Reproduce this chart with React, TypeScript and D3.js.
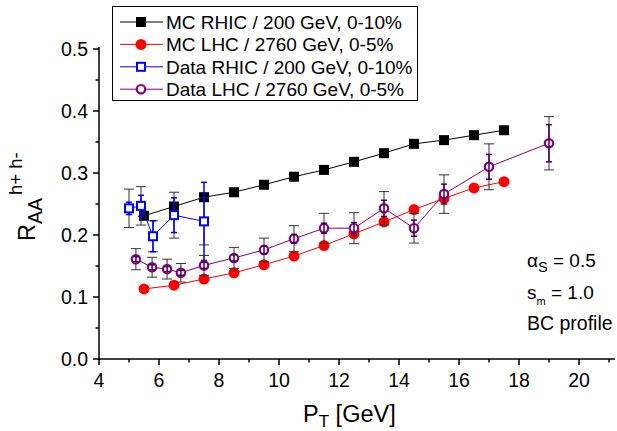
import React from "react";
import * as d3 from "d3";

// ---- data ----
const mcRhicX = [5.5, 6.5, 7.5, 8.5, 9.5, 10.5, 11.5, 12.5, 13.5, 14.5, 15.5, 16.5, 17.5];
const mcRhicY = [0.231, 0.246, 0.261, 0.269, 0.281, 0.294, 0.305, 0.318, 0.332, 0.347, 0.353, 0.361, 0.369];

const mcLhcX = [5.5, 6.5, 7.5, 8.5, 9.5, 10.5, 11.5, 12.5, 13.5, 14.5, 15.5, 16.5, 17.5];
const mcLhcY = [0.113, 0.119, 0.129, 0.139, 0.152, 0.166, 0.183, 0.202, 0.221, 0.241, 0.259, 0.276, 0.286];

const dataRhicX = [5.0, 5.4, 5.8, 6.5, 7.5];
const dataRhicY = [0.243, 0.247, 0.198, 0.232, 0.222];
const dataRhicStat = [0.01, 0.017, 0.025, 0.028, 0.063];
const dataRhicSys = [0.031, 0.031, 0.025, 0.037, 0.038];

const dataLhcX = [5.23, 5.77, 6.27, 6.73, 7.5, 8.5, 9.5, 10.5, 11.5, 12.5, 13.5, 14.5, 15.5, 17.0, 19.0];
const dataLhcY = [0.161, 0.148, 0.145, 0.139, 0.151, 0.163, 0.176, 0.194, 0.211, 0.211, 0.243, 0.211, 0.266, 0.31, 0.348];
const dataLhcStat = [0.004, 0.004, 0.004, 0.004, 0.005, 0.005, 0.006, 0.007, 0.008, 0.009, 0.013, 0.013, 0.016, 0.02, 0.03];
const dataLhcSys = [0.017, 0.016, 0.016, 0.015, 0.016, 0.017, 0.019, 0.021, 0.024, 0.025, 0.027, 0.024, 0.031, 0.037, 0.043];

const xTicks = [4, 6, 8, 10, 12, 14, 16, 18, 20];
const xMinor = [5, 7, 9, 11, 13, 15, 17, 19, 21];
const yTicks = [0, 0.1, 0.2, 0.3, 0.4, 0.5];
const yMinor = [0.05, 0.15, 0.25, 0.35, 0.45];

const legendLabels = [
  "MC RHIC / 200 GeV, 0-10%",
  "MC LHC / 2760 GeV, 0-5%",
  "Data RHIC / 200 GeV, 0-10%",
  "Data LHC / 2760 GeV, 0-5%",
];

const FONT = "Liberation Sans, Arial, sans-serif";
const BLACK = "#000000";
const RED = "#ff0000";
const BLUE = "#0000ff";
const PURPLE = "#800080";

export default function App() {
  const x = d3.scaleLinear().domain([4, 21.2]).range([99, 615]);
  const y = d3.scaleLinear().domain([0, 0.5]).range([359, 49]);
  const line = d3.line<[number, number]>().x((d) => x(d[0])).y((d) => y(d[1]));
  const zip = (xs: number[], ys: number[]) => xs.map((v, i) => [v, ys[i]] as [number, number]);

  const square = (cx: number, cy: number, s: number, fill: string, stroke: string, sw: number, key: string) => (
    <rect key={key} x={cx - s / 2} y={cy - s / 2} width={s} height={s} fill={fill} stroke={stroke} strokeWidth={sw} />
  );

  const errBar = (xs: number[], ys: number[], errs: number[], color: string, sw: number, cap: number, key: string) =>
    xs.map((v, i) => {
      const cx = x(v);
      const y1 = y(ys[i] + errs[i]);
      const y2 = y(ys[i] - errs[i]);
      return (
        <g key={key + i} stroke={color} strokeWidth={sw}>
          <line x1={cx} x2={cx} y1={y1} y2={y2} />
          <line x1={cx - cap / 2} x2={cx + cap / 2} y1={y1} y2={y1} />
          <line x1={cx - cap / 2} x2={cx + cap / 2} y1={y2} y2={y2} />
        </g>
      );
    });

  const legY = (i: number) => 22 + i * 22.4;

  return (
    <svg width={617} height={431} style={{ position: "absolute", left: 0, top: 0, background: "#fff" }} fontFamily={FONT}>
      <rect width={617} height={431} fill="#fff" />
      {/* axes */}
      <line x1={99} x2={99} y1={47} y2={360} stroke="#000" strokeWidth={1.5} />
      <line x1={98} x2={615} y1={359} y2={359} stroke="#000" strokeWidth={1.5} />
      {yTicks.map((t) => (
        <g key={"yt" + t}>
          <line x1={93} x2={99} y1={y(t)} y2={y(t)} stroke="#000" strokeWidth={1.5} />
          <text x={88} y={y(t) + 7} textAnchor="end" fontSize={19.5} fill="#000">
            {t.toFixed(1)}
          </text>
        </g>
      ))}
      {yMinor.map((t) => (
        <line key={"ym" + t} x1={95.5} x2={99} y1={y(t)} y2={y(t)} stroke="#000" strokeWidth={1.5} />
      ))}
      {xTicks.map((t) => (
        <g key={"xt" + t}>
          <line x1={x(t)} x2={x(t)} y1={359} y2={365} stroke="#000" strokeWidth={1.5} />
          <text x={x(t)} y={387} textAnchor="middle" fontSize={19.5} fill="#000">
            {t}
          </text>
        </g>
      ))}
      {xMinor.map((t) => (
        <line key={"xm" + t} x1={x(t)} x2={x(t)} y1={359} y2={362.5} stroke="#000" strokeWidth={1.5} />
      ))}

      {/* axis titles */}
      <text x={303} y={422} fontSize={23.5} fill="#000">
        P<tspan fontSize={17} dy={5}>T</tspan>
        <tspan dy={-5}> [GeV]</tspan>
      </text>
      <g transform="translate(35,241) rotate(-90)">
        <text x={0} y={0} fontSize={23.5} fill="#000">
          R<tspan fontSize={19.5} dy={7}>AA</tspan>
          <tspan fontSize={18.5} dy={-20} dx={3}>h+ h-</tspan>
        </text>
      </g>

      {/* MC lines */}
      <path d={line(zip(mcRhicX, mcRhicY)) || ""} fill="none" stroke={BLACK} strokeWidth={1} />
      {mcRhicX.map((v, i) => square(x(v), y(mcRhicY[i]), 10, BLACK, "none", 0, "mr" + i))}
      <path d={line(zip(mcLhcX, mcLhcY)) || ""} fill="none" stroke={RED} strokeWidth={1} />
      {mcLhcX.map((v, i) => (
        <circle key={"ml" + i} cx={x(v)} cy={y(mcLhcY[i])} r={5.5} fill={RED} />
      ))}

      {/* Data RHIC */}
      {errBar(dataRhicX, dataRhicY, dataRhicSys, "#333", 1, 10, "drs")}
      {errBar(dataRhicX, dataRhicY, dataRhicStat, BLUE, 1.5, 6, "drt")}
      <path d={line(zip(dataRhicX, dataRhicY)) || ""} fill="none" stroke={BLUE} strokeWidth={1} />
      {dataRhicX.map((v, i) => square(x(v), y(dataRhicY[i]), 8, "#fff", BLUE, 2, "dr" + i))}

      {/* Data LHC */}
      {errBar(dataLhcX, dataLhcY, dataLhcSys, "#333", 1, 10, "dls")}
      <path d={line(zip(dataLhcX, dataLhcY)) || ""} fill="none" stroke={PURPLE} strokeWidth={1} />
      {dataLhcX.map((v, i) => (
        <circle key={"dl" + i} cx={x(v)} cy={y(dataLhcY[i])} r={4.2} fill="#fff" stroke={PURPLE} strokeWidth={2.2} />
      ))}
      {errBar(dataLhcX, dataLhcY, dataLhcStat, "#4a0050", 1.5, 6, "dlt")}

      {/* annotation */}
      <text x={527} y={267} fontSize={19} fill="#000">
        α<tspan fontSize={14.5} dy={5}>S</tspan>
        <tspan dy={-5}> = 0.5</tspan>
      </text>
      <text x={527} y={299} fontSize={19} fill="#000">
        s<tspan fontSize={11} dy={6}>m</tspan>
        <tspan dy={-6}> = 1.0</tspan>
      </text>
      <text x={527} y={330} fontSize={19.5} fill="#000">
        BC profile
      </text>

      {/* legend */}
      <rect x={112.5} y={6.5} width={305} height={94} fill="#fff" stroke="#000" strokeWidth={1} />
      {legendLabels.map((lab, i) => {
        const ly = legY(i);
        const colors = [BLACK, RED, BLUE, PURPLE];
        const c = colors[i];
        let marker: React.ReactNode = null;
        if (i === 0) marker = square(141, ly, 10, BLACK, "none", 0, "lg0");
        if (i === 1) marker = <circle cx={141} cy={ly} r={5.5} fill={RED} />;
        if (i === 2) marker = square(141, ly, 8, "#fff", BLUE, 2, "lg2");
        if (i === 3) marker = <circle cx={141} cy={ly} r={4.2} fill="#fff" stroke={PURPLE} strokeWidth={2.2} />;
        return (
          <g key={"lg" + i}>
            <line x1={120} x2={163} y1={ly} y2={ly} stroke={c} strokeWidth={1} />
            {marker}
            <text x={166} y={ly + 6.8} fontSize={19} fill="#000">
              {lab}
            </text>
          </g>
        );
      })}
    </svg>
  );
}
